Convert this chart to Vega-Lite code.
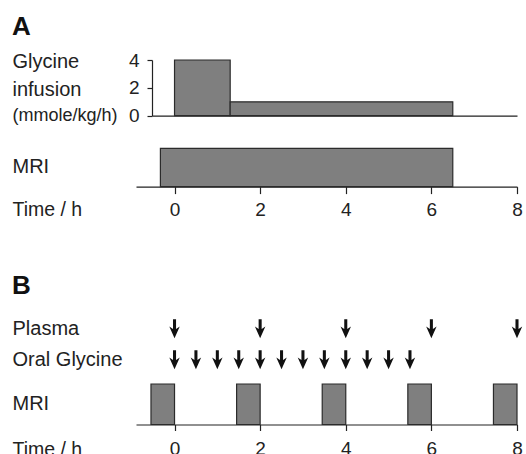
{
  "$schema": "https://vega.github.io/schema/vega-lite/v6.json",
  "padding": {"left": 12, "top": 14, "right": 3, "bottom": 0},
  "spacing": 0,
  "bounds": "flush",
  "config": {
    "font": "Liberation Sans",
    "view": {"stroke": null},
    "axis": {
      "grid": false,
      "domainColor": "#222",
      "tickColor": "#222",
      "labelColor": "#222",
      "titleColor": "#222",
      "labelFontSize": 19,
      "titleFontSize": 19.5,
      "titleFontWeight": "normal",
      "domainWidth": 1.2,
      "tickWidth": 1.2,
      "labelOverlap": false
    },
    "title": {"anchor": "start", "frame": "bounds", "fontSize": 26, "fontWeight": "bold", "color": "#111"}
  },
  "vconcat": [
    {
      "width": 381,
      "height": 55.7,
      "title": {"text": "A", "offset": 11},
      "data": {"values": [
        {"start": 0, "end": 1.3, "rate": 4},
        {"start": 1.3, "end": 6.5, "rate": 1}
      ]},
      "mark": {"type": "bar", "fill": "#7f7f7f", "stroke": "#2b2b2b", "strokeWidth": 1.2},
      "encoding": {
        "x": {
          "field": "start", "type": "quantitative",
          "scale": {"domain": [-0.9, 8], "nice": false, "zero": false},
          "axis": {
            "domain": true, "domainDash": [0, 16, 400, 0], "ticks": false, "labels": false,
            "title": "(mmole/kg/h)", "titleFontSize": 18,
            "titleX": -124, "titleY": 0, "titleAlign": "left", "titleBaseline": "middle", "titleAnchor": "start"
          }
        },
        "x2": {"field": "end"},
        "y": {
          "field": "rate", "type": "quantitative",
          "scale": {"domain": [0, 4], "nice": false},
          "axis": {
            "tickCount": 3, "offset": -16, "tickSize": 5, "labelPadding": 8, "labelOverlap": false, "labelBound": false,
            "labelExpr": "datum.value % 2 === 0 ? datum.label : ''",
            "tickOpacity": {"condition": {"test": "datum.value % 2 !== 0", "value": 0}, "value": 1},
            "title": ["Glycine", "infusion"], "titleFontSize": 20,
            "titleAngle": 0, "titleAlign": "left", "titleBaseline": "middle",
            "titleX": -140, "titleY": 1, "titleLineHeight": 28
          }
        },
        "y2": {"datum": 0}
      }
    },
    {
      "width": 381,
      "height": 70.6,
      "data": {"values": [{"task": "MRI", "start": -0.33, "end": 6.5}]},
      "mark": {"type": "bar", "fill": "#7f7f7f", "stroke": "#2b2b2b", "strokeWidth": 1.2},
      "encoding": {
        "x": {
          "field": "start", "type": "quantitative",
          "scale": {"domain": [-0.9, 8], "nice": false, "zero": false},
          "axis": {
            "values": [0, 2, 4, 6, 8], "tickSize": 7, "labelPadding": 7, "labelFlush": false,
            "title": "Time / h", "titleX": -124, "titleY": 23, "titleAlign": "left", "titleBaseline": "middle", "titleAnchor": "start"
          }
        },
        "x2": {"field": "end"},
        "y": {
          "field": "task", "type": "nominal",
          "scale": {"type": "band", "paddingInner": 0, "paddingOuter": 0.4217, "align": 1},
          "axis": {"title": null, "ticks": false, "tickSize": 0, "domain": false, "labelAlign": "left", "labelPadding": 124, "labelFontSize": 20}
        }
      }
    },
    {
      "width": 381,
      "height": 196.2,
      "title": {"text": "B", "offset": 0, "dy": 112},
      "data": {"values": [
        {"series": "Plasma", "t": 0},
        {"series": "Plasma", "t": 2},
        {"series": "Plasma", "t": 4},
        {"series": "Plasma", "t": 6},
        {"series": "Plasma", "t": 8},
        {"series": "Oral Glycine", "t": 0},
        {"series": "Oral Glycine", "t": 0.5},
        {"series": "Oral Glycine", "t": 1},
        {"series": "Oral Glycine", "t": 1.5},
        {"series": "Oral Glycine", "t": 2},
        {"series": "Oral Glycine", "t": 2.5},
        {"series": "Oral Glycine", "t": 3},
        {"series": "Oral Glycine", "t": 3.5},
        {"series": "Oral Glycine", "t": 4},
        {"series": "Oral Glycine", "t": 4.5},
        {"series": "Oral Glycine", "t": 5},
        {"series": "Oral Glycine", "t": 5.5}
      ]},
      "mark": {
        "type": "point", "filled": true, "opacity": 1, "color": "#111", "size": 361, "strokeWidth": 0,
        "shape": "M-0.16,-1L0.16,-1L0.16,0.02L0.55,-0.22L0,1L-0.55,-0.22L-0.16,0.02Z"
      },
      "encoding": {
        "x": {"field": "t", "type": "quantitative", "scale": {"domain": [-0.9, 8], "nice": false, "zero": false}, "axis": null},
        "y": {
          "field": "series", "type": "nominal", "sort": ["Plasma", "Oral Glycine"],
          "scale": {"type": "band", "paddingInner": 0, "paddingOuter": 0, "range": [126.2, 188.2]},
          "axis": {"title": null, "ticks": false, "tickSize": 0, "domain": false, "labelAlign": "left", "labelPadding": 124, "labelFontSize": 20}
        }
      }
    },
    {
      "width": 381,
      "height": 40.5,
      "data": {"values": [
        {"task": "MRI", "start": -0.55, "end": 0},
        {"task": "MRI", "start": 1.45, "end": 2},
        {"task": "MRI", "start": 3.45, "end": 4},
        {"task": "MRI", "start": 5.45, "end": 6},
        {"task": "MRI", "start": 7.45, "end": 8}
      ]},
      "mark": {"type": "bar", "fill": "#7f7f7f", "stroke": "#2b2b2b", "strokeWidth": 1.2},
      "encoding": {
        "x": {
          "field": "start", "type": "quantitative",
          "scale": {"domain": [-0.9, 8], "nice": false, "zero": false},
          "axis": {
            "values": [0, 2, 4, 6, 8], "tickSize": 6, "labelPadding": 9, "labelFlush": false,
            "title": "Time / h", "titleX": -124, "titleY": 25, "titleAlign": "left", "titleBaseline": "middle", "titleAnchor": "start"
          }
        },
        "x2": {"field": "end"},
        "y": {
          "field": "task", "type": "nominal",
          "scale": {"type": "band", "paddingInner": 0, "paddingOuter": 0},
          "axis": {"title": null, "ticks": false, "tickSize": 0, "domain": false, "labelAlign": "left", "labelPadding": 124, "labelFontSize": 20}
        }
      }
    }
  ]
}
